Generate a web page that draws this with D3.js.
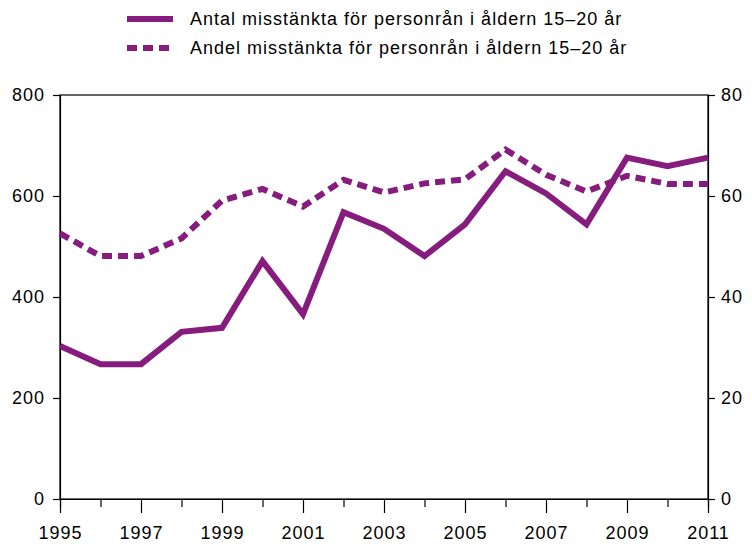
<!DOCTYPE html>
<html>
<head>
<meta charset="utf-8">
<script src="https://cdn.jsdelivr.net/npm/d3@7"></script>
<style>
  body { margin: 0; background: #fff; }
  text { font-family: "Liberation Sans", Arial, sans-serif; fill: #000; }
</style>
</head>
<body>
<div id="chart"></div>
<script>
// Data
var years = [1995, 1996, 1997, 1998, 1999, 2000, 2001, 2002, 2003, 2004, 2005, 2006, 2007, 2008, 2009, 2010, 2011];
var antal = [303, 267, 267, 331, 339, 471, 366, 568, 535, 481, 544, 649, 605, 544, 676, 659, 676];
var andel = [52.6, 48.1, 48.1, 51.6, 59.1, 61.4, 57.9, 63.2, 60.7, 62.5, 63.3, 69.2, 64.2, 60.9, 64.0, 62.4, 62.4];
var leftTicks = [0, 200, 400, 600, 800];
var rightTicks = [0, 20, 40, 60, 80];
var labelYears = [1995, 1997, 1999, 2001, 2003, 2005, 2007, 2009, 2011];
var seriesNames = ['Antal misstänkta för personrån i åldern 15–20 år', 'Andel misstänkta för personrån i åldern 15–20 år'];

var color = '#851c7e';
var width = 752, height = 547;
var margin = {top: 95, bottom: 48, left: 60, right: 44};
var innerW = width - margin.left - margin.right;
var innerH = height - margin.top - margin.bottom;

var svg = d3.select('#chart').append('svg')
    .attr('width', width)
    .attr('height', height);

var g = svg.append('g')
    .attr('transform', `translate(${margin.left},${margin.top})`);

// Scales setup
var xScale = d3.scaleLinear().domain([1995, 2011]).range([0, innerW]);
var yLeft = d3.scaleLinear().domain([0, 800]).range([innerH, 0]);
var yRight = d3.scaleLinear().domain([0, 80]).range([innerH, 0]);

// Frame
g.append('rect')
    .attr('width', innerW).attr('height', innerH)
    .attr('fill', 'none').attr('stroke', '#000').attr('stroke-width', 1.2);

// Axes
var xAxis = d3.axisBottom(xScale).tickValues(years).tickSize(8).tickFormat('');
var gx = g.append('g').attr('transform', `translate(0,${innerH})`).call(xAxis);
gx.selectAll('.tick line').attr('y2', (d) => labelYears.indexOf(d) >= 0 ? 14 : 8);
gx.selectAll('.tick').filter((d) => labelYears.indexOf(d) >= 0).append('text')
    .attr('y', 40).attr('text-anchor', 'middle')
    .text((d) => d);

var gl = g.append('g').call(d3.axisLeft(yLeft).tickValues(leftTicks).tickSize(7).tickPadding(8));
var gr = g.append('g').attr('transform', `translate(${innerW},0)`)
    .call(d3.axisRight(yRight).tickValues(rightTicks).tickSize(7).tickPadding(6));

[gx, gl, gr].forEach(function(a) {
    a.select('.domain').attr('stroke', '#000').attr('stroke-width', 1.2);
    a.selectAll('.tick line').attr('stroke', '#000').attr('stroke-width', 1.2);
    a.selectAll('.tick text')
        .style('font-size', '18px')
        .style('letter-spacing', '1px')
        .style('font-family', '"Liberation Sans", Arial, sans-serif')
        .attr('fill', '#000');
});

// Lines
var lineLeft = d3.line().x((d, i) => xScale(years[i])).y((d) => yLeft(d));
var lineRight = d3.line().x((d, i) => xScale(years[i])).y((d) => yRight(d));

g.append('path').datum(andel)
    .attr('d', lineRight)
    .attr('fill', 'none').attr('stroke', color).attr('stroke-width', 6)
    .attr('stroke-dasharray', '10,6');

g.append('path').datum(antal)
    .attr('d', lineLeft)
    .attr('fill', 'none').attr('stroke', color).attr('stroke-width', 6)
    .attr('stroke-linejoin', 'miter');

// Legend
var legend = svg.append('g').attr('transform', 'translate(127,0)');
var items = legend.selectAll('g').data(seriesNames).enter().append('g')
    .attr('transform', (d, i) => `translate(0,${19 + i * 29})`);
items.append('line')
    .attr('x1', 0).attr('x2', 46)
    .attr('stroke', color).attr('stroke-width', 6)
    .attr('stroke-dasharray', (d, i) => i === 1 ? '10,6' : null);
items.append('text')
    .attr('x', 63).attr('dy', '0.35em')
    .style('font-size', '18px')
    .style('letter-spacing', '1px')
    .text((d) => d);
</script>
</body>
</html>
